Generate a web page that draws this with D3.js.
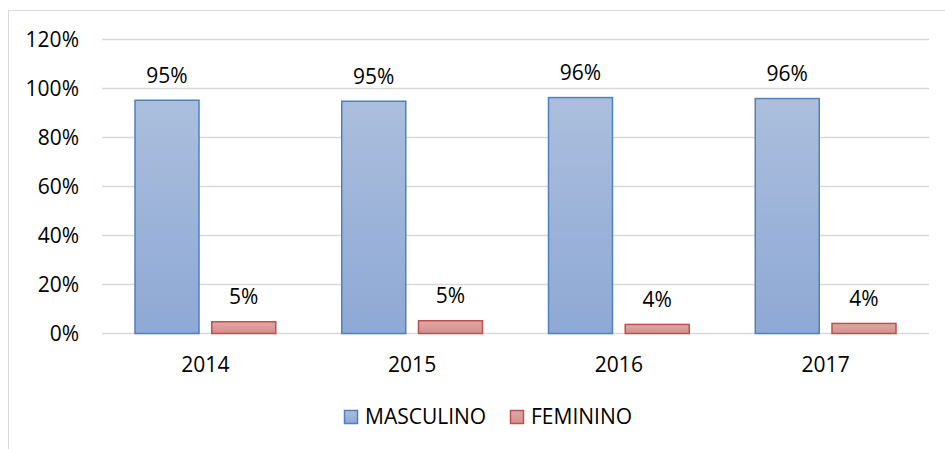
<!DOCTYPE html>
<html>
<head>
<meta charset="utf-8">
<script src="https://cdn.jsdelivr.net/npm/d3@7"></script>
<style>
  body { margin: 0; background: #fff; }
  svg text { font-family: "Open Sans", sans-serif; fill: #000; }
</style>
</head>
<body>
<div id="chart"></div>
<script>
// data
var years = ["2014", "2015", "2016", "2017"];
var series = ["MASCULINO", "FEMININO"];
var masculino = [95.2, 94.8, 96.3, 95.9];
var feminino = [4.8, 5.2, 3.7, 4.1];
var labelsM = ["95%", "95%", "96%", "96%"];
var labelsF = ["5%", "5%", "4%", "4%"];
var yTicks = [0, 20, 40, 60, 80, 100, 120];

var W = 945, H = 449;
var margin = {top: 39.5, right: 16, bottom: 115.5, left: 102};
var fs = "21px";

var svg = d3.select("#chart").append("svg")
    .attr("width", W)
    .attr("height", H);

var defs = svg.append("defs");
function grad(id, c1, c2) {
  var g = defs.append("linearGradient").attr("id", id)
      .attr("x1", 0).attr("y1", 0).attr("x2", 0).attr("y2", 1);
  g.append("stop").attr("offset", "0%").attr("stop-color", c1);
  g.append("stop").attr("offset", "100%").attr("stop-color", c2);
}
grad("gM", "#abbedd", "#8ea9d5");
grad("gF", "#dfa8a7", "#d48f8e");

// chart frame
svg.append("rect")
    .attr("x", 8.5).attr("y", 10.5)
    .attr("width", 960).attr("height", 460)
    .attr("fill", "none")
    .attr("stroke", "#d9d9d9")
    .attr("stroke-width", 1);

var x = d3.scaleBand()
    .domain(years)
    .range([margin.left, W - margin.right]);

var xs = d3.scaleBand()
    .domain(series)
    .range([33, x.bandwidth() - 33])
    .paddingInner(0.166);

var y = d3.scaleLinear()
    .domain([0, 120])
    .range([H - margin.bottom, margin.top]);

// gridlines
svg.append("g")
  .selectAll("line")
  .data(yTicks)
  .enter()
  .append("line")
    .attr("x1", margin.left)
    .attr("x2", W - margin.right)
    .attr("y1", function(d) { return y(d); })
    .attr("y2", function(d) { return y(d); })
    .attr("stroke", "#d9d9d9")
    .attr("stroke-width", 1.5);

// y axis labels
svg.append("g")
  .selectAll("text")
  .data(yTicks)
  .enter()
  .append("text")
    .attr("x", 79)
    .attr("y", function(d) { return y(d); })
    .attr("dy", "0.35em")
    .attr("text-anchor", "end")
    .style("font-size", fs)
    .text(function(d) { return d + "%"; });

// x axis labels
svg.append("g")
  .selectAll("text")
  .data(years)
  .enter()
  .append("text")
    .attr("x", function(d) { return x(d) + x.bandwidth() / 2; })
    .attr("y", 365)
    .attr("dy", "0.35em")
    .attr("text-anchor", "middle")
    .style("font-size", fs)
    .text(function(d) { return d; });

var colors = {MASCULINO: {fill: "url(#gM)", stroke: "#4f81bd"},
              FEMININO: {fill: "url(#gF)", stroke: "#c0504d"}};

var rows = [];
years.forEach(function(yr, i) {
  rows.push({year: yr, s: "MASCULINO", v: masculino[i], label: labelsM[i]});
  rows.push({year: yr, s: "FEMININO", v: feminino[i], label: labelsF[i]});
});

// bars
svg.append("g")
  .selectAll("rect")
  .data(rows)
  .enter()
  .append("rect")
    .attr("x", function(d) { return x(d.year) + xs(d.s); })
    .attr("y", function(d) { return y(d.v); })
    .attr("width", xs.bandwidth())
    .attr("height", function(d) { return y(0) - y(d.v); })
    .attr("fill", function(d) { return colors[d.s].fill; })
    .attr("stroke", function(d) { return colors[d.s].stroke; })
    .attr("stroke-width", 1.5);

// value labels
svg.append("g")
  .selectAll("text")
  .data(rows)
  .enter()
  .append("text")
    .attr("x", function(d) { return x(d.year) + xs(d.s) + xs.bandwidth() / 2; })
    .attr("y", function(d) { return y(d.v) - 25; })
    .attr("dy", "0.35em")
    .attr("text-anchor", "middle")
    .style("font-size", fs)
    .text(function(d) { return d.label; });

// legend
var legX = [344, 510];
var leg = svg.append("g")
  .selectAll("g")
  .data(series)
  .enter()
  .append("g")
    .attr("transform", function(d, i) { return "translate(" + legX[i] + ",417)"; });

leg.append("rect")
    .attr("x", 0.5).attr("y", -6.5)
    .attr("width", 13).attr("height", 13)
    .attr("fill", function(d) { return colors[d].fill; })
    .attr("stroke", function(d) { return colors[d].stroke; })
    .attr("stroke-width", 1.5);

leg.append("text")
    .attr("x", 21)
    .attr("y", 0)
    .attr("dy", "0.35em")
    .style("font-size", fs)
    .text(function(d) { return d; });
</script>
</body>
</html>
